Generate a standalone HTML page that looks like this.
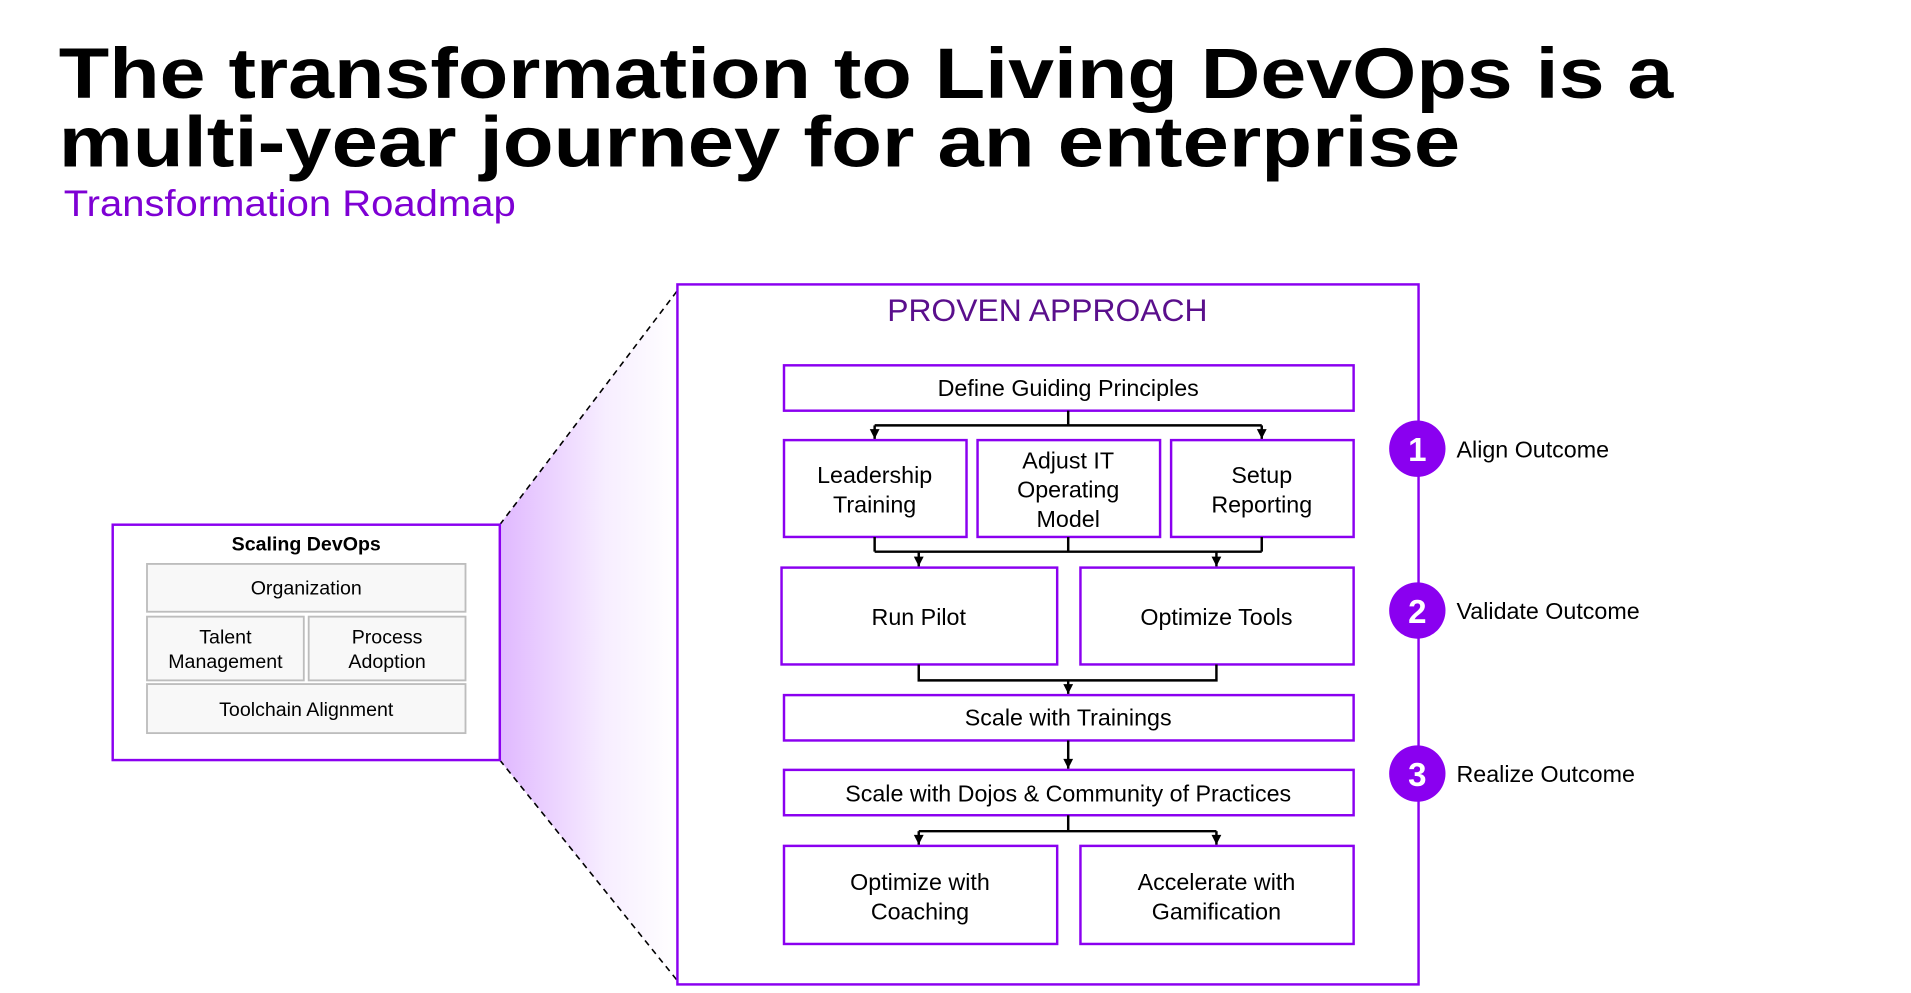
<!DOCTYPE html>
<html><head><meta charset="utf-8"><style>
html,body{margin:0;padding:0;background:#fff;width:1911px;height:993px;overflow:hidden}
svg{display:block}
text{font-family:"Liberation Sans",Arial,sans-serif}
</style></head><body>
<svg width="1911" height="993" viewBox="0 0 1560 810" preserveAspectRatio="none">
<defs>
<linearGradient id="g" x1="0" x2="1" y1="0" y2="0">
<stop offset="0" stop-color="#e0b8ff"/><stop offset="0.6" stop-color="#f7eeff"/><stop offset="1" stop-color="#ffffff"/>
</linearGradient>
<marker id="a" markerWidth="10" markerHeight="10" refX="9" refY="5" orient="auto" markerUnits="userSpaceOnUse">
<path d="M1,1 L9,5 L1,9 Z" fill="#000"/></marker>
</defs>
<text x="48" y="80" font-size="58" font-weight="bold" textLength="1318" lengthAdjust="spacingAndGlyphs">The transformation to Living DevOps is a</text>
<text x="48" y="136" font-size="58" font-weight="bold" textLength="1144" lengthAdjust="spacingAndGlyphs">multi-year journey for an enterprise</text>
<text x="52" y="176" font-size="30" fill="#7e00d4" textLength="369" lengthAdjust="spacingAndGlyphs">Transformation Roadmap</text>

<polygon points="408,428 553,237 553,800 408,620" fill="url(#g)"/>
<line x1="408" y1="428" x2="553" y2="237" stroke="#000" stroke-width="1.3" stroke-dasharray="5,4"/>
<line x1="408" y1="620" x2="553" y2="800" stroke="#000" stroke-width="1.3" stroke-dasharray="5,4"/>

<rect x="92" y="428" width="316" height="192" fill="#fff" stroke="#8a00f0" stroke-width="2"/>
<text x="250" y="449" font-size="16" font-weight="bold" text-anchor="middle">Scaling DevOps</text>
<g fill="#f8f8f8" stroke="#bdbdbd" stroke-width="1.5">
<rect x="120" y="460" width="260" height="39"/>
<rect x="120" y="503" width="128" height="52"/>
<rect x="252" y="503" width="128" height="52"/>
<rect x="120" y="558" width="260" height="40"/>
</g>
<g font-size="16" text-anchor="middle">
<text x="250" y="485">Organization</text>
<text x="184" y="525">Talent</text><text x="184" y="545">Management</text>
<text x="316" y="525">Process</text><text x="316" y="545">Adoption</text>
<text x="250" y="584">Toolchain Alignment</text>
</g>

<rect x="553" y="232" width="605" height="571" fill="#fff" stroke="#8a00f0" stroke-width="2"/>
<text x="855" y="262" font-size="26" fill="#5a0f8c" text-anchor="middle">PROVEN APPROACH</text>

<g fill="#fff" stroke="#8a00f0" stroke-width="2">
<rect x="640" y="298" width="465" height="37"/>
<rect x="640" y="359" width="149" height="79"/>
<rect x="798" y="359" width="149" height="79"/>
<rect x="956" y="359" width="149" height="79"/>
<rect x="638" y="463" width="225" height="79"/>
<rect x="882" y="463" width="223" height="79"/>
<rect x="640" y="567" width="465" height="37"/>
<rect x="640" y="628" width="465" height="37"/>
<rect x="640" y="690" width="223" height="80"/>
<rect x="882" y="690" width="223" height="80"/>
</g>

<g stroke="#000" stroke-width="2" fill="none">
<path d="M872,335 V347 M714,347 H1030"/>
<line x1="714" y1="347" x2="714" y2="358" marker-end="url(#a)"/>
<line x1="1030" y1="347" x2="1030" y2="358" marker-end="url(#a)"/>
<path d="M714,438 V450 M872,438 V450 M1030,438 V450 M714,450 H1030"/>
<line x1="750" y1="450" x2="750" y2="462" marker-end="url(#a)"/>
<line x1="993" y1="450" x2="993" y2="462" marker-end="url(#a)"/>
<path d="M750,542 V555 H993 V542"/>
<line x1="872" y1="555" x2="872" y2="566" marker-end="url(#a)"/>
<line x1="872" y1="604" x2="872" y2="627" marker-end="url(#a)"/>
<path d="M872,665 V678 M750,678 H993"/>
<line x1="750" y1="678" x2="750" y2="689" marker-end="url(#a)"/>
<line x1="993" y1="678" x2="993" y2="689" marker-end="url(#a)"/>
</g>

<g font-size="19" text-anchor="middle">
<text x="872" y="323">Define Guiding Principles</text>
<text x="714" y="394">Leadership</text><text x="714" y="418">Training</text>
<text x="872" y="382">Adjust IT</text><text x="872" y="406">Operating</text><text x="872" y="430">Model</text>
<text x="1030" y="394">Setup</text><text x="1030" y="418">Reporting</text>
<text x="750" y="510">Run Pilot</text>
<text x="993" y="510">Optimize Tools</text>
<text x="872" y="592">Scale with Trainings</text>
<text x="872" y="654">Scale with Dojos &amp; Community of Practices</text>
<text x="751" y="726">Optimize with</text><text x="751" y="750">Coaching</text>
<text x="993" y="726">Accelerate with</text><text x="993" y="750">Gamification</text>
</g>

<g fill="#8a00f0">
<circle cx="1157" cy="366" r="23"/>
<circle cx="1157" cy="498" r="23"/>
<circle cx="1157" cy="631" r="23"/>
</g>
<g font-size="27" font-weight="bold" fill="#fff" text-anchor="middle">
<text x="1157" y="376">1</text><text x="1157" y="508">2</text><text x="1157" y="641">3</text>
</g>
<g font-size="19">
<text x="1189" y="373">Align Outcome</text>
<text x="1189" y="505">Validate Outcome</text>
<text x="1189" y="638">Realize Outcome</text>
</g>
</svg>
</body></html>
